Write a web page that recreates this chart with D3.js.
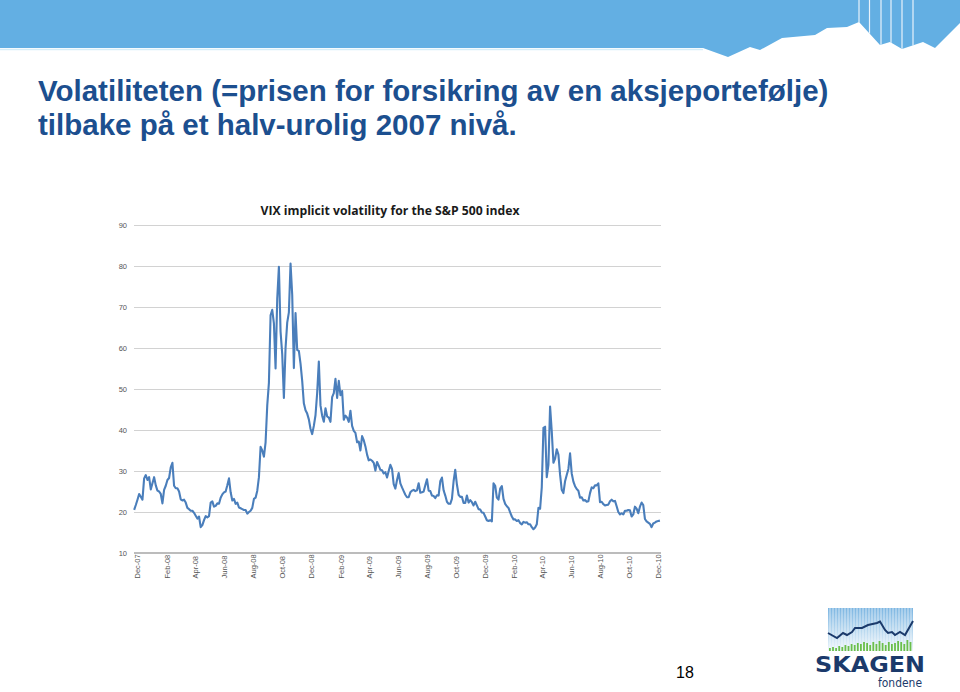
<!DOCTYPE html>
<html>
<head>
<meta charset="utf-8">
<script src="https://cdn.jsdelivr.net/npm/d3@7"></script>
<style>
  html, body { margin: 0; padding: 0; background: #ffffff; }
  svg { display: block; }
</style>
</head>
<body>
<svg id="chart" width="960" height="692"></svg>
<script>
// ---------------- DATA ----------------
const slideTitle = ["Volatiliteten (=prisen for forsikring av en aksjeportefølje)",
                    "tilbake på et halv-urolig 2007 nivå."];
const chartTitle = "VIX implicit volatility for the S&P 500 index";
const pageNumber = "18";

// twice-weekly VIX readings (every 3.5 days), starting late Nov 2007
const seriesStart = "2007-11-25";
const stepHours = 84;
const vixValues = [
  20.5, 21.7, 23.0, 24.4, 23.7, 23.0, 28.2, 29.0, 27.8, 28.5,
  25.5, 27.0, 28.5, 26.5, 25.2, 25.0, 24.4, 22.1, 25.4, 26.4,
  27.8, 28.3, 30.9, 32.0, 26.4, 25.8, 25.8, 25.0, 23.1, 22.8,
  23.0, 22.3, 21.0, 20.7, 20.3, 20.3, 19.8, 19.1, 18.4, 18.9,
  16.3, 16.8, 18.0, 19.0, 18.7, 19.0, 22.3, 22.6, 21.3, 21.5,
  22.1, 22.0, 23.5, 24.3, 24.8, 25.0, 26.5, 28.2, 24.8, 22.8,
  23.2, 22.0, 22.3, 21.1, 20.9, 20.7, 20.5, 20.5, 19.6, 20.0,
  20.3, 21.0, 23.2, 23.5, 25.2, 28.5, 35.9, 35.0, 33.5, 37.0,
  46.0, 51.5, 68.0, 69.3, 66.0, 55.0, 72.0, 79.8, 64.0, 58.5,
  47.8, 60.0, 66.2, 68.7, 80.6, 73.0, 55.1, 68.5, 59.5, 59.3,
  56.2, 52.0, 46.5, 44.8, 44.0, 42.6, 40.3, 39.0, 41.0, 43.6,
  49.0, 56.7, 46.0, 43.5, 42.0, 45.3, 43.3, 43.0, 42.0, 48.0,
  49.0, 52.5, 47.8, 52.0, 48.5, 49.5, 42.5, 43.5, 43.0, 42.0,
  44.7, 41.0, 39.8, 39.3, 37.0, 37.2, 35.0, 38.5, 37.5, 36.0,
  34.0, 32.6, 32.8, 32.5, 32.0, 30.1, 32.2, 31.3, 30.3, 30.2,
  29.4, 29.7, 28.4, 30.0, 31.5, 30.5, 26.8, 25.7, 27.8, 29.5,
  27.0, 26.0, 25.1, 24.2, 23.6, 23.6, 24.8, 25.2, 25.4, 25.1,
  25.3, 27.0, 24.7, 24.8, 25.0, 26.5, 28.0, 25.2, 25.1, 24.0,
  23.9, 23.4, 24.1, 24.0, 27.5, 28.4, 25.3, 24.0, 22.5, 22.0,
  22.0, 23.2, 27.5, 30.3, 26.7, 24.2, 23.7, 23.7, 22.2, 22.2,
  24.0, 22.3, 22.9, 22.4, 21.6, 22.5, 21.6, 20.7, 20.6, 19.9,
  19.8, 18.9, 18.0, 17.8, 18.0, 17.7, 27.0, 26.4, 23.5, 23.0,
  25.7, 26.3, 23.2, 22.0, 21.4, 21.0, 19.9, 18.9, 18.2, 18.2,
  17.8, 18.0, 17.3, 17.0, 17.6, 17.4, 17.5, 17.0, 17.0, 16.3,
  15.8, 16.2, 17.0, 21.0, 20.8, 26.0, 40.5, 40.8, 28.5, 31.5,
  45.7, 39.7, 32.0, 33.0, 35.3, 34.0, 29.1, 25.4, 24.6, 27.5,
  29.0, 30.5, 34.3, 29.4, 27.4, 26.3, 25.6, 25.2, 23.5, 23.6,
  22.8, 22.9, 22.5, 22.6, 24.6, 26.0, 25.8, 26.5, 26.5, 27.0,
  22.4, 22.5, 21.9, 21.6, 21.7, 21.8, 22.6, 23.0, 22.6, 22.7,
  21.4, 20.0, 19.4, 19.7, 19.4, 20.3, 20.3, 20.5, 20.4, 18.9,
  19.4, 21.3, 20.8, 19.7, 21.3, 22.3, 21.7, 18.3, 17.7, 17.4,
  17.1, 16.3, 17.2, 17.4, 17.7, 17.8, 17.9
];

const yTicks = [10, 20, 30, 40, 50, 60, 70, 80, 90];
const xTickLabels = ["Dec-07","Feb-08","Apr-08","Jun-08","Aug-08","Oct-08","Dec-08",
                     "Feb-09","Apr-09","Jun-09","Aug-09","Oct-09","Dec-09",
                     "Feb-10","Apr-10","Jun-10","Aug-10","Oct-10","Dec-10"];
const xTickStart = "2007-12-01";

// ---------------- DRAW ----------------
const svg = d3.select("#chart");
const defs = svg.append("defs");
const parse = d3.timeParse("%Y-%m-%d");
const t0 = parse(seriesStart);
const data = vixValues.map((v, i) => ({ date: d3.timeHour.offset(t0, stepHours * i), value: v }));
const tickStart = parse(xTickStart);
const tickDates = xTickLabels.map((s, i) => d3.timeMonth.offset(tickStart, 2 * i));

// ---- header band ----
const headerPts = [[0,0],[960,0],[960,23],[935,48],[923,42],[902,49],[890,42],[880,45],
                   [859,22],[847,27],[827,28],[815,35],[782,38],[760,50],[750,47],[728,57],[703,48],[0,48]];
defs.append("clipPath").attr("id", "hdrclip").append("polygon")
   .attr("points", headerPts.map(p => p.join(",")).join(" "));
svg.append("polygon").attr("points", headerPts.map(p => p.join(",")).join(" "))
   .attr("fill", "#63afe3");
svg.append("line").attr("x1", 0).attr("x2", 703).attr("y1", 49.5).attr("y2", 49.5)
   .attr("stroke", "#d6eef9").attr("stroke-width", 1.5);
[859, 869.5, 881, 891, 902, 913].forEach(x => {
  svg.append("line").attr("x1", x).attr("x2", x).attr("y1", 0).attr("y2", 60)
     .attr("stroke", "#ffffff").attr("stroke-width", 1.2).attr("opacity", 0.85)
     .attr("clip-path", "url(#hdrclip)");
});

// ---- slide title ----
const title = svg.append("text")
  .attr("font-family", "Liberation Sans, Arial, sans-serif")
  .attr("font-weight", "bold").attr("font-size", 29.5).attr("fill", "#1c4f8f");
title.append("tspan").attr("x", 38).attr("y", 101).text(slideTitle[0]);
title.append("tspan").attr("x", 38).attr("y", 135).text(slideTitle[1]);

// ---- chart ----
const x = d3.scaleTime().domain([tickStart, tickDates[tickDates.length - 1]]).range([137, 658]);
const y = d3.scaleLinear().domain([10, 90]).range([553, 225]);
const plotX0 = 134, plotX1 = 661;

svg.append("text").attr("x", 390).attr("y", 215).attr("text-anchor", "middle")
  .attr("font-family", "Open Sans, DejaVu Sans, sans-serif").attr("font-weight", "bold")
  .attr("font-size", 12.2).attr("fill", "#1a1a1a").text(chartTitle);

// gridlines
svg.append("g").selectAll("line").data(yTicks.filter(d => d !== 10)).join("line")
  .attr("x1", plotX0).attr("x2", plotX1)
  .attr("y1", d => y(d) + 0.5).attr("y2", d => y(d) + 0.5)
  .attr("stroke", "#d2d2d2").attr("stroke-width", 1);
// baseline axis
svg.append("line").attr("x1", plotX0).attr("x2", plotX1)
  .attr("y1", y(10)).attr("y2", y(10)).attr("stroke", "#bcbcbc").attr("stroke-width", 2);

// y axis labels
const yAxis = d3.axisLeft(y).tickValues(yTicks).tickSize(0).tickPadding(0).tickFormat(d3.format("d"));
const gy = svg.append("g").attr("transform", "translate(127,0)").call(yAxis);
gy.select(".domain").remove();
gy.selectAll("text").attr("font-family", "Liberation Sans, Arial, sans-serif")
  .attr("font-size", 7.5).attr("fill", "#555");

// x axis labels (rotated)
const xAxis = d3.axisBottom(x).tickValues(tickDates).tickSize(0).tickPadding(0)
  .tickFormat((d, i) => xTickLabels[i]);
const gx = svg.append("g").attr("transform", "translate(0,558)").call(xAxis);
gx.select(".domain").remove();
gx.selectAll(".tick text").attr("font-family", "Liberation Sans, Arial, sans-serif")
  .attr("font-size", 7.5).attr("fill", "#555")
  .attr("transform", "rotate(-90)").attr("x", -20.5).attr("y", 0)
  .attr("dy", "0.35em").attr("text-anchor", "start");

// line
const line = d3.line().x(d => x(d.date)).y(d => y(d.value)).curve(d3.curveLinear);
svg.append("path").datum(data).attr("d", line)
  .attr("fill", "none").attr("stroke", "#4a7ebb").attr("stroke-width", 2.1)
  .attr("stroke-linejoin", "round");

// ---- page number ----
svg.append("text").attr("x", 685).attr("y", 678).attr("text-anchor", "middle")
  .attr("font-family", "Liberation Sans, Arial, sans-serif").attr("font-size", 16)
  .attr("fill", "#000").text(pageNumber);

// ---- logo ----
const logo = svg.append("g");
const grad = defs.append("linearGradient").attr("id", "logoGrad").attr("x1", 0).attr("y1", 0).attr("x2", 0).attr("y2", 1);
grad.append("stop").attr("offset", "0%").attr("stop-color", "#7cb6e2");
grad.append("stop").attr("offset", "100%").attr("stop-color", "#eef6fb");
logo.append("rect").attr("x", 828).attr("y", 608).attr("width", 85).attr("height", 43).attr("fill", "url(#logoGrad)");
d3.range(830, 913, 3).forEach(px => {
  logo.append("line").attr("x1", px).attr("x2", px).attr("y1", 608).attr("y2", 651)
    .attr("stroke", "#ffffff").attr("stroke-width", 0.8).attr("opacity", 0.8);
});
const greenH = [3,4,3,5,4,6,5,7,6,8,7,9,8,6,9,7,10,8,6,9,7,8,10,9,7,11,9];
greenH.forEach((h, i) => {
  logo.append("rect").attr("x", 829 + i * 3.1).attr("y", 651 - h).attr("width", 1.8).attr("height", h)
    .attr("fill", "#6abf4b");
});
const logoLine = [[828,633],[837,638],[843,633],[847,635],[852,632],[855,628],[862,628],[868,625],
                  [877,623],[880,621.5],[885,630],[888,633],[892,632],[895,635],[900,632],[905,635],[913,621]];
logo.append("path").attr("d", d3.line()(logoLine)).attr("fill", "none")
  .attr("stroke", "#1b3a6b").attr("stroke-width", 2);
logo.append("text").attr("x", 815).attr("y", 672).attr("textLength", 110).attr("lengthAdjust", "spacingAndGlyphs")
  .attr("font-family", "DejaVu Sans, Verdana, sans-serif").attr("font-weight", "bold")
  .attr("font-size", 21).attr("fill", "#1b3a6b").text("SKAGEN");
logo.append("text").attr("x", 878).attr("y", 687).attr("textLength", 44).attr("lengthAdjust", "spacingAndGlyphs")
  .attr("font-family", "DejaVu Sans, Verdana, sans-serif")
  .attr("font-size", 11.5).attr("fill", "#1b3a6b").text("fondene");
</script>
</body>
</html>
